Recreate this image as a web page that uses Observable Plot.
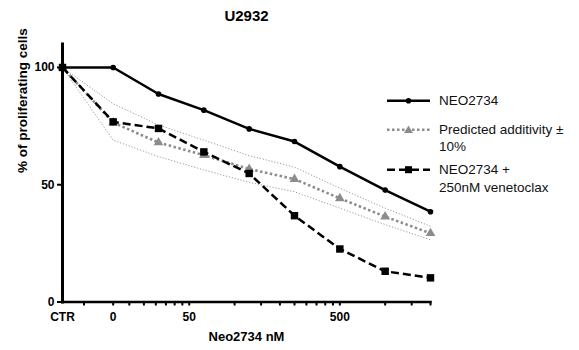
<!DOCTYPE html>
<html><head><meta charset="utf-8">
<script src="https://cdn.jsdelivr.net/npm/d3@7"></script>
<script src="https://cdn.jsdelivr.net/npm/@observablehq/plot@0.6"></script>
<style>
body{margin:0;background:#fff;font-family:"Liberation Sans",Arial,sans-serif;}
#wrap{position:relative;width:579px;height:350px;}
.item{position:absolute;left:386px;display:flex;align-items:flex-start;}
.item svg{flex:none;}
.item span{font-size:13.5px;line-height:17.4px;color:#111;white-space:pre-line;margin-left:8px;}
</style></head><body><div id="wrap"></div>
<script>
const title = "U2932";
const xLabel = "Neo2734 nM";
const yLabel = "% of proliferating cells";
// dose positions (CTR drawn at the left edge of the log axis)
const doses = [7.2, 15.625, 31.25, 62.5, 125, 250, 500, 1000, 2000];
const neo = [100, 100, 88.7, 81.8, 73.8, 68.4, 57.7, 47.7, 38.5];
const combo = [100, 76.8, 74, 64, 54.8, 36.8, 22.6, 13.1, 10.3];
const predicted = [100, 76.5, 68, 62.6, 56.7, 52.4, 44.2, 36.4, 29.3];
const upper = [100, 84.5, 75.5, 69, 62.4, 57.5, 48.5, 40, 32.3];
const lower = [100, 69, 62, 56.3, 51, 47, 40, 33, 26.5];
const xTickValues = [7.2, 15.625, 50, 500];
const xTickLabels = ["CTR", "0", "50", "500"];
const xMinorTicks = [10, 15.625, 20, 25, 30, 35, 40, 45, 50, 100, 150, 200, 250, 300, 350, 400, 450, 500, 1000, 1500, 2000];
const yTicks = [0, 50, 100];
const seriesNames = ["NEO2734", "Predicted additivity ±\n10%", "NEO2734 +\n250nM venetoclax"];

const rows = doses.map((d, i) => ({dose: d, neo: neo[i], combo: combo[i], pred: predicted[i], up: upper[i], lo: lower[i]}));
const tickRows = xTickValues.map((v, i) => ({v, label: xTickLabels[i]}));
const font = "Liberation Sans, Arial, sans-serif";

const plot = Plot.plot({
  width: 579, height: 350,
  marginLeft: 62, marginRight: 149, marginTop: 43.5, marginBottom: 48.5,
  style: {fontFamily: font, background: "white", color: "#000"},
  x: {type: "log", domain: [doses[0], doses[doses.length - 1]]},
  y: {domain: [0, 110]},
  marks: [
    Plot.line(rows, {x: "dose", y: "up", stroke: "#9a9a9a", strokeWidth: 1, strokeDasharray: "1.2,1.8", strokeLinecap: "butt"}),
    Plot.line(rows, {x: "dose", y: "lo", stroke: "#9a9a9a", strokeWidth: 1, strokeDasharray: "1.2,1.8", strokeLinecap: "butt"}),
    Plot.line(rows, {x: "dose", y: "pred", stroke: "#8c8c8c", strokeWidth: 2.6, strokeDasharray: "2.5,2.5", strokeLinecap: "butt"}),
    Plot.dot(rows, {x: "dose", y: "pred", symbol: "triangle", r: 3.6, fill: "#8c8c8c", stroke: "none"}),
    Plot.line(rows, {x: "dose", y: "neo", stroke: "#000", strokeWidth: 2.5}),
    Plot.dot(rows, {x: "dose", y: "neo", r: 2.8, fill: "#000", stroke: "none"}),
    Plot.line(rows, {x: "dose", y: "combo", stroke: "#000", strokeWidth: 2.5, strokeDasharray: "8,4", strokeLinecap: "butt"}),
    Plot.dot(rows, {x: "dose", y: "combo", symbol: "square", r: 4.2, fill: "#000", stroke: "none"}),
    Plot.axisY({ticks: yTicks, tickSize: 5, tickPadding: 3, strokeWidth: 2, fontSize: 12, fontWeight: "bold", label: null}),
    Plot.axisX({ticks: xMinorTicks, tickSize: 4, strokeWidth: 2, tickFormat: () => "", label: null}),
    Plot.text(tickRows, {x: "v", text: "label", frameAnchor: "bottom", lineAnchor: "middle", dy: 15.2, fontSize: 12, fontWeight: "bold", fill: "#000"}),
    Plot.frame({anchor: "left", strokeWidth: 3, stroke: "#000"}),
    Plot.frame({anchor: "bottom", strokeWidth: 2.5, stroke: "#000"}),
    Plot.text([title], {frameAnchor: "top", lineAnchor: "middle", dy: -27.5, fontSize: 15, fontWeight: "bold", fill: "#000"}),
    Plot.text([xLabel], {frameAnchor: "bottom", lineAnchor: "middle", dy: 35.2, fontSize: 13, fontWeight: "bold", fill: "#000"}),
    Plot.text([yLabel], {frameAnchor: "left", lineAnchor: "middle", dx: -40, rotate: -90, fontSize: 13.5, fontWeight: "bold", fill: "#000"})
  ]
});
const wrap = document.getElementById("wrap");
wrap.appendChild(plot);

// legend
const legendTops = [92, 120.6, 161.3];
const samples = [
  `<line x1="1" x2="44" y1="8.7" y2="8.7" stroke="#000" stroke-width="2.5"/><circle cx="22.5" cy="8.7" r="2.8" fill="#000"/>`,
  `<line x1="1" x2="44" y1="8.7" y2="8.7" stroke="#8c8c8c" stroke-width="2.6" stroke-dasharray="2.5,2.5"/><path d="M22.5,4.5 L27,12 L18,12 Z" fill="#8c8c8c"/>`,
  `<line x1="1" x2="44" y1="8.7" y2="8.7" stroke="#000" stroke-width="2.5" stroke-dasharray="8,4"/><rect x="19" y="5.2" width="7" height="7" fill="#000"/>`
];
seriesNames.forEach((name, i) => {
  const div = document.createElement("div");
  div.className = "item";
  div.style.top = legendTops[i] + "px";
  div.innerHTML = `<svg width="45" height="17.4">${samples[i]}</svg><span></span>`;
  div.querySelector("span").textContent = name;
  wrap.appendChild(div);
});
</script></body></html>
